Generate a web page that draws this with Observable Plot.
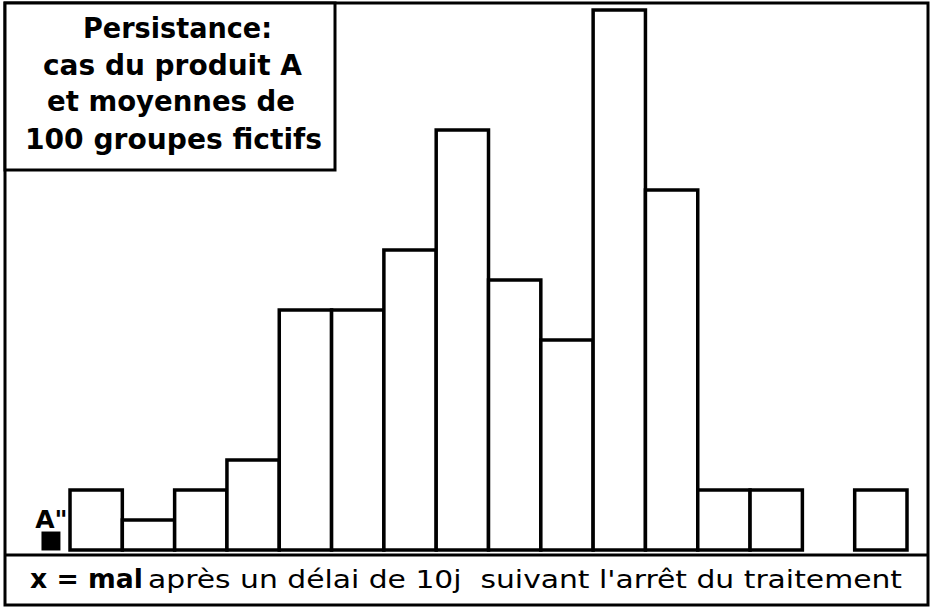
<!DOCTYPE html>
<html><head><meta charset="utf-8">
<script src="https://cdn.jsdelivr.net/npm/d3@7"></script>
<script src="https://cdn.jsdelivr.net/npm/@observablehq/plot@0.6"></script>
<style>body{margin:0;background:#fff}</style>
</head><body><div id="chart"></div>
<script>
// Data
const bins = [1, 2, 3, 4, 5, 6, 7, 8, 9, 10, 11, 12, 13, 14, 15, 16];
const counts = [2, 1, 2, 3, 8, 8, 10, 14, 9, 7, 18, 12, 2, 2, 0, 2];
const productABin = 0;
const markerLabel = 'A"';
const titleLines = ["Persistance:", "cas du produit A", "et moyennes de", "100 groupes fictifs"];
const footerBold = "x = mal";
const footerText = "après un délai de 10j  suivant l'arrêt du traitement";

const data = bins.map((b, i) => ({bin: b, count: counts[i]})).filter(d => d.count > 0);
const W = 930, H = 609;
const titleFont = "'DejaVu Sans', sans-serif";

const plot = Plot.plot({
  width: W, height: H,
  marginLeft: 17.7, marginRight: 23, marginTop: 10, marginBottom: 59,
  x: {domain: [0, 17], axis: null},
  y: {domain: [0, 18], axis: null},
  marks: [
    Plot.rectY(data, {x1: "bin", x2: d => d.bin + 1, y: "count", fill: "white", stroke: "black", strokeWidth: 3.5}),
    Plot.dot([{bin: productABin}], {x: d => d.bin + 0.5, y: 0, symbol: "square", r: 10.7, fill: "black", stroke: "none", dx: 6.6, dy: -9.5}),
    Plot.text([{bin: productABin, label: markerLabel}], {x: d => d.bin + 0.5, y: 0, text: "label", dx: 7, dy: -23, lineAnchor: "bottom", fontWeight: "bold", fontSize: 25, fontFamily: titleFont, fill: "black"})
  ]
});

const svg = d3.select(plot);
// outer frame
svg.append("rect").attr("x", 5).attr("y", 3).attr("width", 923).attr("height", 602)
  .attr("fill", "none").attr("stroke", "black").attr("stroke-width", 3);
// title box
svg.append("rect").attr("x", 5).attr("y", 3).attr("width", 330).attr("height", 167)
  .attr("fill", "white").attr("stroke", "black").attr("stroke-width", 3);
// separator above footer
svg.append("line").attr("x1", 5).attr("x2", 928).attr("y1", 555).attr("y2", 555)
  .attr("stroke", "black").attr("stroke-width", 3);

function addText(str, x, y, len, size, weight) {
  svg.append("text")
    .attr("x", x).attr("y", y)
    .attr("text-anchor", "start")
    .attr("font-family", titleFont).attr("font-weight", weight).attr("font-size", size)
    .attr("textLength", len).attr("lengthAdjust", "spacingAndGlyphs")
    .attr("fill", "black").attr("xml:space", "preserve")
    .style("white-space", "pre")
    .text(str);
}

const titlePos = [[83, 38, 189], [43, 75, 259], [47, 111, 248], [25, 149, 297]];
titleLines.forEach((t, i) => {
  const [x, y, len] = titlePos[i];
  addText(t, x, y, len, 28, "bold");
});

addText(footerBold, 30, 588, 113, 26, "bold");
addText(footerText, 148, 588, 754, 25, "normal");

document.getElementById("chart").appendChild(plot);
</script>
</body></html>
